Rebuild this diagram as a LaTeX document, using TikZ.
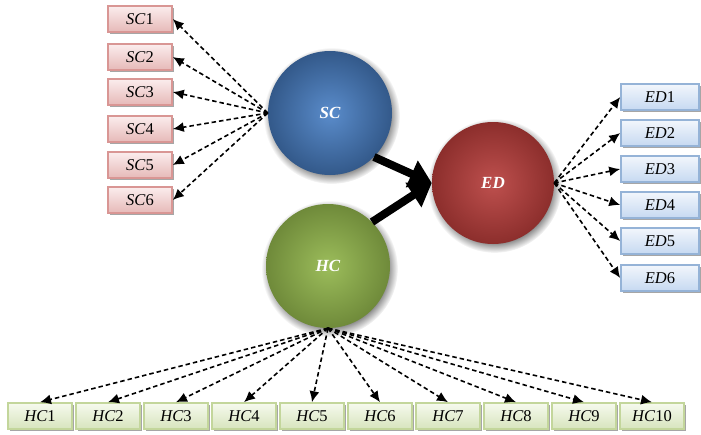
\documentclass[tikz,border=0pt]{standalone}
\usepackage{fontspec}
\setmainfont{Liberation Serif}
\usetikzlibrary{arrows.meta}
\usetikzlibrary{shadows}

\definecolor{scin}{HTML}{5A8CCB}
\definecolor{scout}{HTML}{33598A}
\definecolor{edin}{HTML}{BE504E}
\definecolor{edout}{HTML}{8C2E2C}
\definecolor{hcin}{HTML}{9CBD5B}
\definecolor{hcout}{HTML}{6F8A3A}
\definecolor{scline}{HTML}{D99694}
\definecolor{sctop}{HTML}{FBEDED}
\definecolor{scbot}{HTML}{E6B9B8}
\definecolor{edline}{HTML}{95B3D7}
\definecolor{edtop}{HTML}{F2F6FC}
\definecolor{edbot}{HTML}{C6D9F1}
\definecolor{hcline}{HTML}{C3D69B}
\definecolor{hctop}{HTML}{F6FAEE}
\definecolor{hcbot}{HTML}{D7E4BD}

\tikzset{
  latent/.style={circle, minimum size=124pt, inner sep=0pt, text=white,
    font=\fontsize{17}{19}\selectfont\bfseries\itshape,
    circular drop shadow={shadow xshift=1.5pt, shadow yshift=-2.5pt, fill=black, opacity=0.45}},
  item/.style={draw, line width=1.6pt, minimum width=64pt, minimum height=26pt, inner sep=0pt,
    font=\fontsize{16.5}{18}\selectfont,
    drop shadow={shadow xshift=1.5pt, shadow yshift=-2pt, fill=gray!70, opacity=1}},
  scitem/.style={item, draw=scline, top color=sctop, bottom color=scbot},
  editem/.style={item, draw=edline, top color=edtop, bottom color=edbot, minimum width=78pt},
  hcitem/.style={item, draw=hcline, top color=hctop, bottom color=hcbot},
  dashto/.style={dash pattern=on 4.5pt off 3pt, line width=1.6pt, -{Latex[length=11pt,width=10pt]}},
  bigto/.style={line width=8pt, -{Triangle[length=22pt,width=28pt]}}
}

\begin{document}
\begin{tikzpicture}[x=1pt,y=-1pt]
  \useasboundingbox (0,0) rectangle (701,434);

  % latent variables
  \node[latent, inner color=scin, outer color=scout] (sc) at (330,113) {SC};
  \node[latent, inner color=edin, outer color=edout, minimum size=122pt] (ed) at (493,183) {ED};
  \node[latent, inner color=hcin, outer color=hcout] (hc) at (328,266) {HC};

  % indicators
  \foreach \y/\n in {19/1,57/2,92/3,129/4,165/5,200/6}{
    \node[scitem] (sc\n) at (140,\y) {\textit{SC}\n};
    \draw[dashto] (sc.west) -- (sc\n.east);
  }
  \foreach \y/\n in {97/1,133/2,169/3,205/4,241/5,278/6}{
    \node[editem] (ed\n) at (660,\y) {\textit{ED}\n};
    \draw[dashto] (ed.east) -- (ed\n.west);
  }
  \foreach \n in {1,...,10}{
    \node[hcitem] (hc\n) at ({40+68*(\n-1)},416) {\textit{HC}\n};
    \draw[dashto] (hc.south) -- (hc\n.north);
  }

  \draw[bigto] (sc.-45) -- (ed.west);
  \draw[bigto] (hc.45) -- (ed.west);
\end{tikzpicture}
\end{document}
